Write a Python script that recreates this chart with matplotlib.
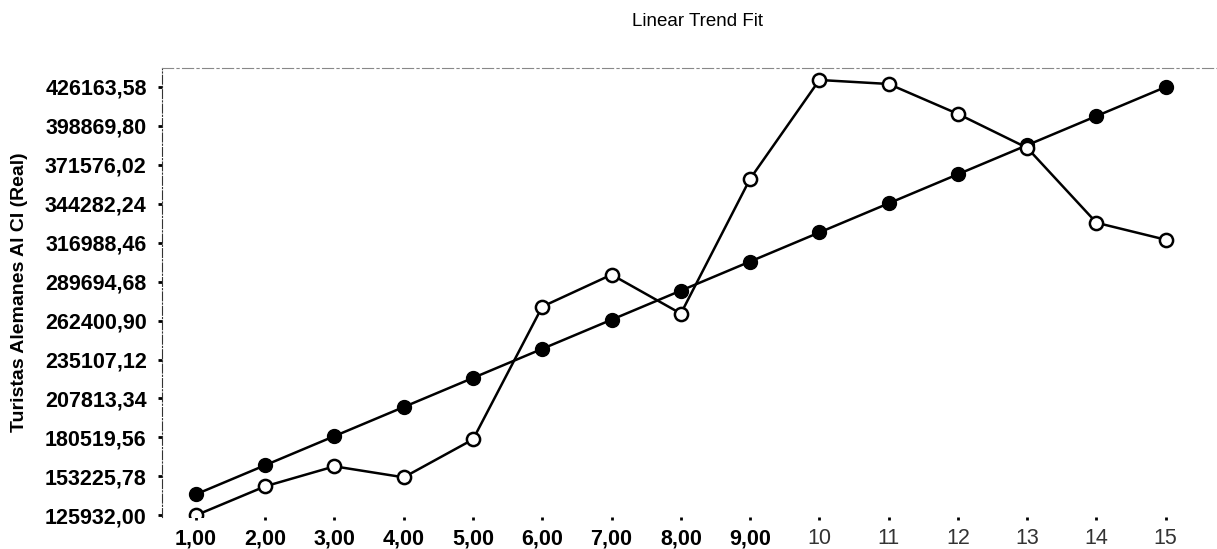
import matplotlib.pyplot as plt
import numpy as np

plt.rcParams['font.family'] = ['Liberation Sans', 'DejaVu Sans']

# data
x = np.arange(1, 16)
real = [125932, 146244, 160240, 152542, 179134, 272208, 294601, 267309,
        361782, 431062, 428263, 407269, 383476, 330991, 319094]
trend = [140645, 161039, 181433, 201827, 222221, 242615, 263009, 283403,
         303797, 324191, 344585, 364979, 385373, 405767, 426163.58]

yticks = [125932.00, 153225.78, 180519.56, 207813.34, 235107.12, 262400.90,
          289694.68, 316988.46, 344282.24, 371576.02, 398869.80, 426163.58]
xlabels = ["1,00", "2,00", "3,00", "4,00", "5,00", "6,00", "7,00", "8,00",
           "9,00", "10", "11", "12", "13", "14", "15"]

fig = plt.figure(figsize=(12.17, 5.49), dpi=100)
ax = fig.add_axes([162/1217, 1 - 517/549, 1 - 162/1217, (517 - 68)/549])

ax.plot(x, trend, color='black', lw=1.8, marker='o', ms=10,
        mfc='black', mec='black', zorder=3)
ax.plot(x, real, color='black', lw=1.8, marker='o', ms=9.5,
        mfc='white', mec='black', mew=1.8, zorder=4)

ax.set_xlim(0.51, 15.74)
ax.set_ylim(125932 - 1200, 439460)

ax.set_yticks(yticks)
ax.set_yticklabels([f"{v:.2f}".replace('.', ',') for v in yticks],
                   fontsize=15.5, fontweight='bold')
ax.set_xticks(x)
ax.set_xticklabels(xlabels, fontsize=15.5, fontweight='bold')
for lab in ax.get_xticklabels()[9:]:
    lab.set_fontweight('normal')
    lab.set_color('#333333')

ax.tick_params(axis='y', direction='out', length=3, width=2, pad=8)
ax.tick_params(axis='x', direction='out', length=2, width=2, pad=6)

ax.spines['right'].set_visible(False)
ax.spines['bottom'].set_visible(False)
ax.spines['left'].set_linestyle((0, (8, 2, 1, 2)))
ax.spines['left'].set_color('#333333')
ax.spines['top'].set_linestyle((0, (10, 3, 2, 3)))
ax.spines['top'].set_color('#888888')

ax.set_ylabel("Turistas Alemanes Al CI (Real)", fontsize=14, fontweight='bold')
ax.yaxis.set_label_coords(-0.127, 0.50)

fig.text(697/1217, 1 - 22/549, "Linear Trend Fit", ha='center', va='center',
         fontsize=13.5)

fig.savefig("out.png", dpi=100)
